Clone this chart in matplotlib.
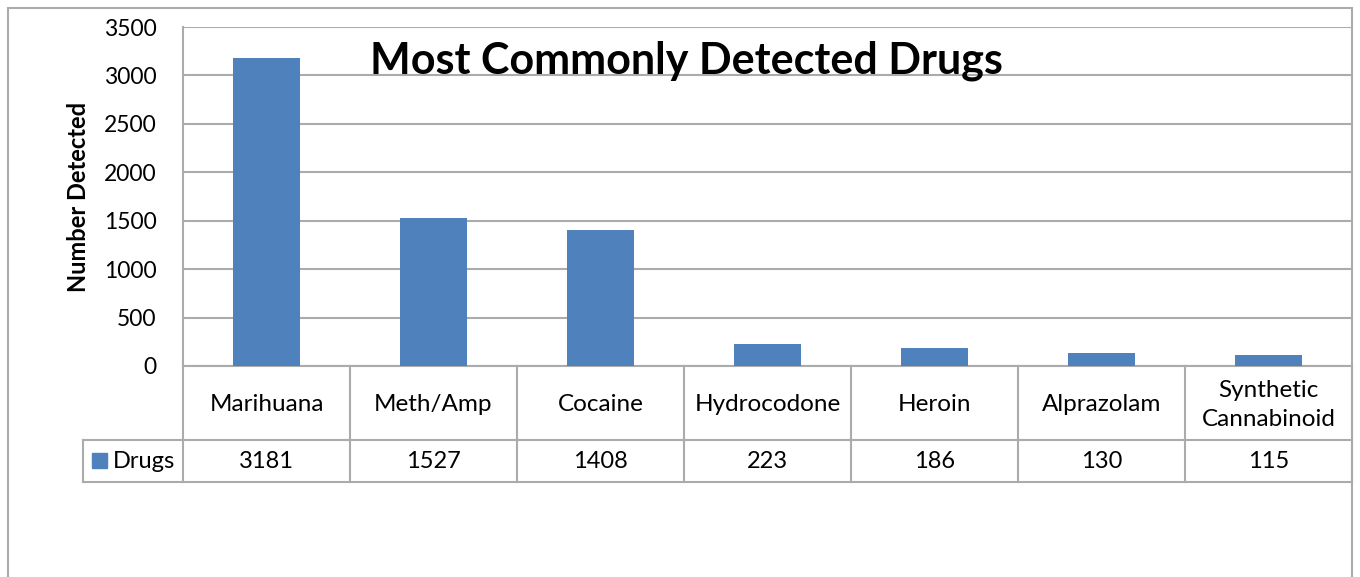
import matplotlib.pyplot as plt
from matplotlib.patches import Rectangle
from matplotlib.transforms import blended_transform_factory

# chart data
drugs = ['Marihuana', 'Meth/Amp', 'Cocaine', 'Hydrocodone', 'Heroin', 'Alprazolam',
         'Synthetic\nCannabinoid']
counts = [3181, 1527, 1408, 223, 186, 130, 115]
series_name = 'Drugs'
yticks = [0, 500, 1000, 1500, 2000, 2500, 3000, 3500]

plt.rcParams['font.family'] = ['Lato', 'DejaVu Sans']
bar_color = '#4F81BD'
grid_color = '#ABABAB'

W, H = 1360, 577
fig = plt.figure(figsize=(W / 100, H / 100), dpi=100)

# plot area placed in pixel terms
left, right, top, bottom = 183, 1352, 27, 366
ax = fig.add_axes([left / W, 1 - bottom / H, (right - left) / W, (bottom - top) / H])

x = list(range(len(drugs)))
ax.bar(x, counts, width=0.4, color=bar_color, zorder=3)
ax.set_xlim(-0.5, len(drugs) - 0.5)
ax.set_ylim(0, 3500)
ax.set_yticks(yticks)
ax.set_yticklabels([str(v) for v in yticks], fontsize=16.5)
ax.tick_params(axis='y', length=0, pad=19)
ax.set_xticks([])
ax.yaxis.grid(True, color=grid_color, linewidth=1.5, zorder=0)
for s in ['top', 'right']:
    ax.spines[s].set_visible(False)
for s in ['left', 'bottom']:
    ax.spines[s].set_color(grid_color)
    ax.spines[s].set_linewidth(1.5)
ax.set_ylabel('Number Detected', fontsize=17, fontweight='bold', labelpad=10)

ax.text((686 - left) / (right - left), 0.9, 'Most Commonly Detected Drugs',
        transform=ax.transAxes, ha='center', va='center', fontsize=31,
        fontweight='bold', zorder=5)

# data table below the plot (y in axes fraction)
tr = blended_transform_factory(ax.transData, ax.transAxes)
ph = bottom - top
row1 = -(440 - bottom) / ph
row2 = -(482 - bottom) / ph
leg_x = -0.5 - (left - 83) / ((right - left) / len(drugs))
lkw = dict(color=grid_color, linewidth=1.5, transform=tr, clip_on=False)
n = len(drugs)
for b in [i - 0.5 for i in range(n + 1)]:
    ax.plot([b, b], [0, row2], **lkw)
ax.plot([leg_x, leg_x], [row1, row2], **lkw)
ax.plot([leg_x, n - 0.5], [row1, row1], **lkw)
ax.plot([leg_x, n - 0.5], [row2, row2], **lkw)

for i, (name, val) in enumerate(zip(drugs, counts)):
    ax.text(i, row1 / 2 - 0.005, name, transform=tr, ha='center', va='center',
            fontsize=17.5, linespacing=1.45)
    ax.text(i, (row1 + row2) / 2, str(val), transform=tr, ha='center', va='center',
            fontsize=17)

# legend key in the table
ax.add_patch(Rectangle((92 / W, 1 - 468 / H), 15 / W, 15 / H, transform=fig.transFigure,
                       color=bar_color, clip_on=False))
fig.text(113 / W, 1 - 461 / H, series_name, ha='left', va='center', fontsize=17)

# outer chart border
fig.add_artist(Rectangle((8 / W, -0.1), (1352 - 8) / W, 1.1 - 8 / H,
                         transform=fig.transFigure, fill=False,
                         edgecolor=grid_color, linewidth=1.5))

fig.savefig('out.png', dpi=100)
